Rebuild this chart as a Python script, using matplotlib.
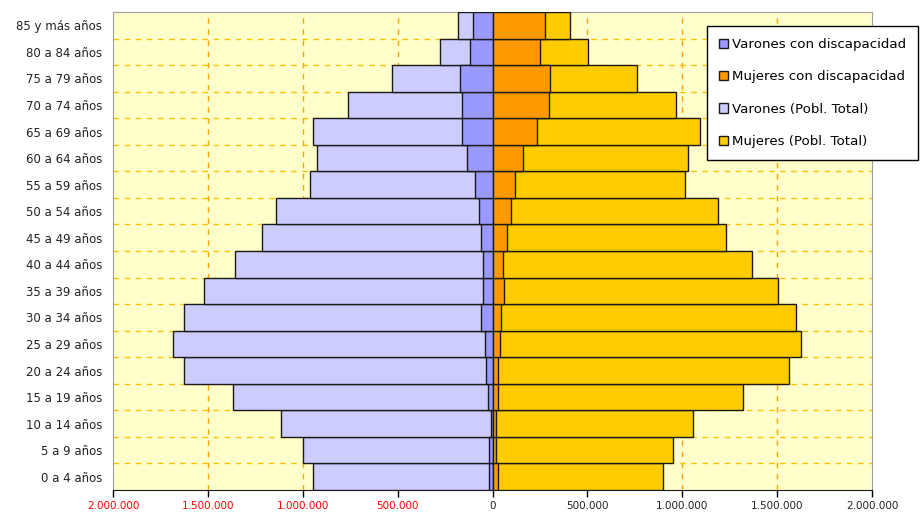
"""Pirámide de población: total y con discapacidad, por sexo y grupo de edad."""

import matplotlib.pyplot as plt
from matplotlib.patches import Patch

plt.rcParams["font.family"] = ["DejaVu Sans"]

# grupos de edad, de menor a mayor
ages = [
    "0 a 4 años", "5 a 9 años", "10 a 14 años", "15 a 19 años", "20 a 24 años",
    "25 a 29 años", "30 a 34 años", "35 a 39 años", "40 a 44 años", "45 a 49 años",
    "50 a 54 años", "55 a 59 años", "60 a 64 años", "65 a 69 años", "70 a 74 años",
    "75 a 79 años", "80 a 84 años", "85 y más años",
]

# valores en personas
varones_total = [945000, 998000, 1116000, 1367000, 1628000, 1683000, 1628000, 1520000, 1357000,
                 1214000, 1142000, 961000, 926000, 945000, 764000, 531000, 279000, 184000]
mujeres_total = [896000, 950000, 1059000, 1321000, 1563000, 1625000, 1598000, 1505000, 1365000,
                 1231000, 1186000, 1013000, 1031000, 1094000, 968000, 760000, 502000, 409000]
varones_disc = [16000, 16000, 7000, 24000, 33000, 42000, 60000, 51000, 51000,
                60000, 69000, 90000, 133000, 160000, 160000, 169000, 116000, 103000]
mujeres_disc = [28000, 19000, 19000, 28000, 28000, 37000, 46000, 63000, 55000,
                74000, 99000, 116000, 162000, 236000, 297000, 304000, 251000, 279000]

x_ticks = [-2000000, -1500000, -1000000, -500000, 0, 500000, 1000000, 1500000, 2000000]

labels = ["Varones con discapacidad", "Mujeres con discapacidad",
          "Varones (Pobl. Total)", "Mujeres (Pobl. Total)"]
colors = ["#9999FF", "#FF9900", "#CCCCFF", "#FFCC00"]

fig = plt.figure(figsize=(9.21, 5.19), dpi=100)
ax = fig.add_axes([113 / 921, 1 - 490 / 519, (872 - 113) / 921, (490 - 12) / 519])
ax.set_facecolor("#FFFFCC")

y = range(len(ages))
bar_kw = dict(height=1.0, edgecolor="#1a1a1a", linewidth=1.0, zorder=3)
ax.barh(y, [-v for v in varones_total], color=colors[2], **bar_kw)
ax.barh(y, mujeres_total, color=colors[3], **bar_kw)
ax.barh(y, [-v for v in varones_disc], color=colors[0], **bar_kw)
ax.barh(y, mujeres_disc, color=colors[1], **bar_kw)

ax.set_xlim(-2000000, 2000000)
ax.set_ylim(-0.5, len(ages) - 0.5)

# rejilla discontinua
for v in x_ticks[1:-1]:
    ax.axvline(v, color="#FFA500", linestyle=(0, (4, 4)), linewidth=1.0, zorder=1)
for k in range(len(ages) - 1):
    ax.axhline(k + 0.5, color="#FFC000", linestyle=(0, (4, 4)), linewidth=1.0, zorder=1)

ax.set_yticks(list(y))
ax.set_yticklabels(ages, fontsize=8.5, color="#222222")
ax.tick_params(axis="y", length=0, pad=8)

ax.set_xticks(x_ticks)
ax.set_xticklabels([f"{abs(v):,}".replace(",", ".") for v in x_ticks], fontsize=7.5)
for lbl, v in zip(ax.get_xticklabels(), x_ticks):
    lbl.set_color("red" if v < 0 else "#222222")
ax.tick_params(axis="x", direction="out", length=5, width=1, pad=3)

for side in ["left", "top", "right"]:
    ax.spines[side].set_color("#A0A0A0")
ax.spines["bottom"].set_color("#1a1a1a")

handles = [Patch(facecolor=c, edgecolor="#1a1a1a", linewidth=1.0) for c in colors]
leg = fig.legend(handles, labels, loc="upper left", bbox_to_anchor=(707 / 921, 1 - 26 / 519),
                 fontsize=9.6, frameon=True, fancybox=False, framealpha=1,
                 handlelength=0.7, handleheight=0.7, handletextpad=0.3,
                 labelspacing=1.45, borderpad=0.9, borderaxespad=0)
leg.get_frame().set_edgecolor("black")
leg.get_frame().set_linewidth(1.0)

fig.savefig("out.png", dpi=100)
